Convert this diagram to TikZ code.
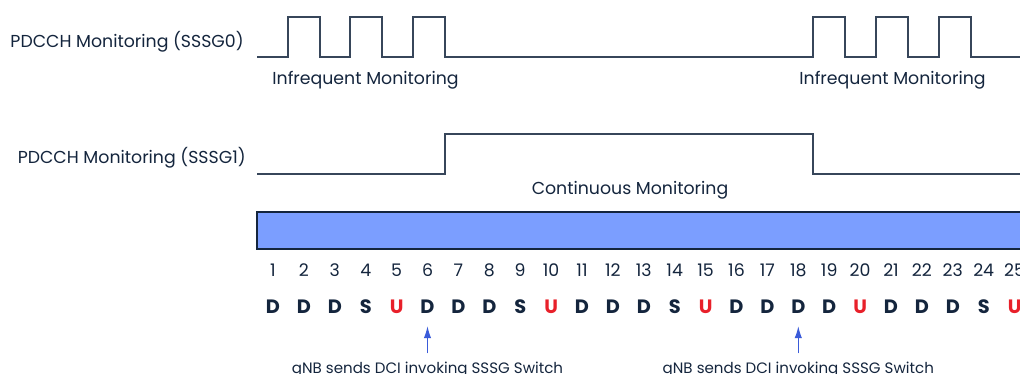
\documentclass[tikz,border=0pt]{standalone}
\usepackage{fontspec}
\setmainfont{Poppins}
\usetikzlibrary{arrows.meta}

\definecolor{ink}{HTML}{14253D}
\definecolor{upred}{HTML}{E8202A}
\definecolor{barblue}{HTML}{7B9EFF}
\definecolor{arrowblue}{HTML}{3A5BD9}

\tikzstyle{wave} = [draw=ink!85,line width=1pt,line join=miter]
\tikzstyle{label} = [font=\fontsize{13}{15}\selectfont,text=ink,inner sep=0pt]
\tikzstyle{slot} = [font=\fontsize{13}{15}\selectfont,text=ink,inner sep=0pt]
\tikzstyle{dir} = [font=\fontsize{14.5}{16}\selectfont\bfseries,inner sep=0pt]
\tikzstyle{note} = [font=\fontsize{11.3}{13}\selectfont,text=ink,inner sep=1pt,anchor=base]
\tikzstyle{arrowdecorate} = [-{Latex[length=9pt,width=5.5pt]},draw=arrowblue,line width=0.9pt]

\begin{document}
\begin{tikzpicture}[x=0.75pt,y=-0.75pt]
      \useasboundingbox (0,0) rectangle (1020,374);
      \clip (0,0) rectangle (1020,374);

      % signal names
      \node[label,anchor=east] (sssg0) at (244,42) {PDCCH Monitoring (SSSG0)};
      \node[label,anchor=east] (sssg1) at (246,158) {PDCCH Monitoring (SSSG1)};

      % SSSG0 waveform
      \draw[wave] (257,57)
        \foreach \a/\b in {288/320, 350/382, 413/445, 813/845, 876/908, 939/971}
        { -- (\a,57) -- (\a,17) -- (\b,17) -- (\b,57) } -- (1021,57);
      \node[label] (infreq1) at (365.5,80) {Infrequent Monitoring};
      \node[label] (infreq2) at (892.5,80) {Infrequent Monitoring};

      % SSSG1 waveform
      \draw[wave] (257,174) -- (445,174) -- (445,134) -- (813,134) -- (813,174) -- (1021,174);
      \node[label] (cont) at (630,190) {Continuous Monitoring};

      % slot bar
      \fill[barblue] (257,212) rectangle (1021,249);
      \draw[ink,line width=1pt] (1021,212) -- (257,212) -- (257,249) -- (1021,249);

      % slots
      \foreach \d/\c [count=\i] in {D/ink, D/ink, D/ink, S/ink, U/upred,
        D/ink, D/ink, D/ink, S/ink, U/upred, D/ink, D/ink, D/ink, S/ink, U/upred,
        D/ink, D/ink, D/ink, D/ink, U/upred, D/ink, D/ink, D/ink, S/ink, U/upred}
      {
        \node[slot] (n\i) at ({273+(\i-1)*30.9},270) {\i};
        \node[dir,text=\c] (s\i) at ({273+(\i-1)*30.9},307) {\d};
      };

      % DCI arrows
      \foreach \name/\slot in {dci1/6, dci2/18}
      {
        \node[note] (\name) at (s\slot |- 0,373) {gNB sends DCI invoking SSSG Switch};
        \draw[arrowdecorate] ([yshift=5]s\slot |- \name.north) -- ([yshift=-9]s\slot.south);
      };
\end{tikzpicture}
\end{document}
